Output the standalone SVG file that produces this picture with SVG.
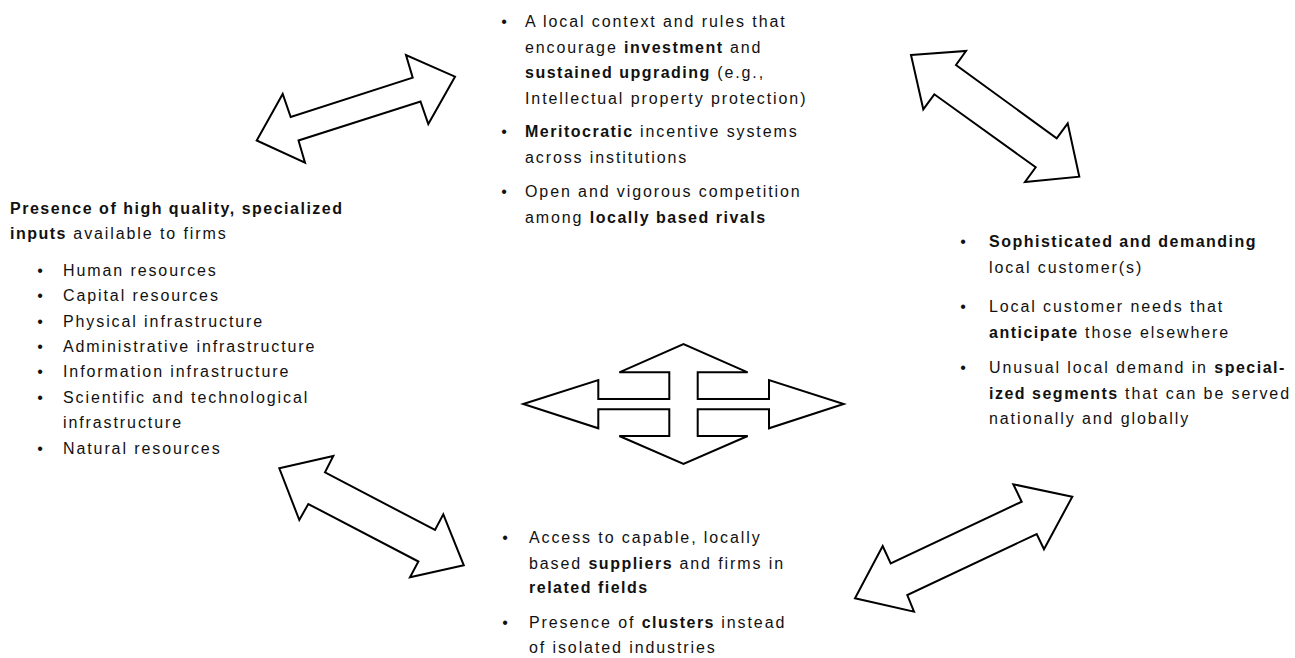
<svg xmlns="http://www.w3.org/2000/svg" width="1295" height="658" viewBox="0 0 1295 658">
<style>
.arrow{fill:#fff;stroke:#000;stroke-width:2;stroke-linejoin:miter}
text{font-family:"Liberation Sans",Arial,sans-serif;font-size:16px;fill:#111;letter-spacing:1.9px}
.b{font-weight:bold;letter-spacing:1.5px}
.bul{text-anchor:middle;letter-spacing:0}
</style>
<rect width="1295" height="658" fill="#fff"/>
<g id="connectors">
<polygon class="arrow" points="455,76.7 428.3,124 420.5,101.5 298.5,140.5 305,162.7 256.7,140.5 282.7,94 290.7,117 412.7,77.7 406,55"/>
<polygon class="arrow" points="911,55 966,51 956,65 1056.7,138.3 1067.7,123.3 1079.3,176.7 1025,182 1035.7,167.3 934.3,94.3 923.3,109.3"/>
<polygon class="arrow" points="523.3,404 598.3,380 598.3,399 669.3,399 669.3,372.3 619.3,372.3 683.5,344 747.7,372.3 697.7,372.3 697.7,399 769,399 769,380 843.7,404 769,428.3 769,409.3 697.7,409.3 697.7,436 747.7,436 683.5,464 619.3,436 669.3,436 669.3,409.3 598.3,409.3 598.3,428.3"/>
<polygon class="arrow" points="279.3,468.3 333.3,456 325,472.3 435,530 443.3,514.3 463.8,565.3 410,577.2 418.4,561.5 308.3,504 299.3,520"/>
<polygon class="arrow" points="1072.3,496.7 1013.3,484.3 1021.7,501.7 890.7,563.3 882.7,546 855,598.3 914,611.7 907.3,595 1036.7,534 1044,549.3"/>
</g>
<g id="node-top">
<text class="bul" x="504" y="27">•</text>
<text x="525" y="27">A local context and rules that</text>
<text x="525" y="52.5">encourage <tspan class="b">investment</tspan> and</text>
<text x="525" y="78"><tspan class="b">sustained upgrading</tspan> (e.g.,</text>
<text x="525" y="103.5">Intellectual property protection)</text>
<text class="bul" x="504" y="137">•</text>
<text x="525" y="137"><tspan class="b">Meritocratic</tspan> incentive systems</text>
<text x="525" y="163">across institutions</text>
<text class="bul" x="504" y="197">•</text>
<text x="525" y="197">Open and vigorous competition</text>
<text x="525" y="223">among <tspan class="b">locally based rivals</tspan></text>
</g>
<g id="node-left">
<text x="10" y="214"><tspan class="b">Presence of high quality, specialized</tspan></text>
<text x="10" y="239"><tspan class="b">inputs</tspan> available to firms</text>
<text class="bul" x="40" y="276">•</text><text x="63" y="276">Human resources</text>
<text class="bul" x="40" y="301.3">•</text><text x="63" y="301.3">Capital resources</text>
<text class="bul" x="40" y="326.6">•</text><text x="63" y="326.6">Physical infrastructure</text>
<text class="bul" x="40" y="351.9">•</text><text x="63" y="351.9">Administrative infrastructure</text>
<text class="bul" x="40" y="377.2">•</text><text x="63" y="377.2">Information infrastructure</text>
<text class="bul" x="40" y="402.5">•</text><text x="63" y="402.5">Scientific and technological</text>
<text x="63" y="427.8">infrastructure</text>
<text class="bul" x="40" y="453.5">•</text><text x="63" y="453.5">Natural resources</text>
</g>
<g id="node-right">
<text class="bul" x="963" y="247">•</text>
<text x="989" y="247"><tspan class="b">Sophisticated and demanding</tspan></text>
<text x="989" y="272.5">local customer(s)</text>
<text class="bul" x="963" y="312">•</text>
<text x="989" y="312">Local customer needs that</text>
<text x="989" y="337.5"><tspan class="b">anticipate</tspan> those elsewhere</text>
<text class="bul" x="963" y="373">•</text>
<text x="989" y="373">Unusual local demand in <tspan class="b">special-</tspan></text>
<text x="989" y="398.5"><tspan class="b">ized segments</tspan> that can be served</text>
<text x="989" y="424">nationally and globally</text>
</g>
<g id="node-bottom">
<text class="bul" x="505" y="543.3">•</text>
<text x="529" y="543.3">Access to capable, locally</text>
<text x="529" y="569.3">based <tspan class="b">suppliers</tspan> and firms in</text>
<text x="529" y="593.3"><tspan class="b">related fields</tspan></text>
<text class="bul" x="505" y="628.3">•</text>
<text x="529" y="628.3">Presence of <tspan class="b">clusters</tspan> instead</text>
<text x="529" y="653">of isolated industries</text>
</g>
</svg>
